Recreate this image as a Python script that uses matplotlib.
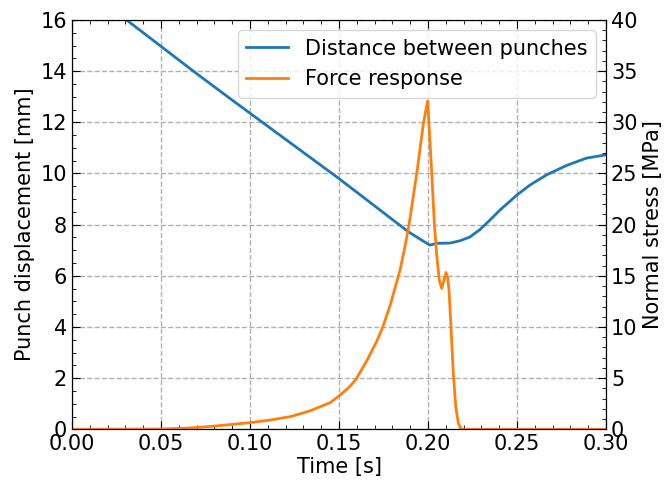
import matplotlib
matplotlib.use("Agg")
import matplotlib.pyplot as plt
from matplotlib.ticker import MultipleLocator

plt.rcParams["font.size"] = 15

# punch distance [mm] vs time [s]
t_dist = [0.0, 0.0307, 0.0682, 0.0888, 0.15, 0.189, 0.2, 0.201, 0.205,
          0.2124, 0.218, 0.2236, 0.2292, 0.2348, 0.2404, 0.2498, 0.2573,
          0.2667, 0.278, 0.289, 0.30]
dist = [17.47, 16.0, 14.0, 12.93, 9.8, 7.72, 7.24, 7.2, 7.27,
        7.28, 7.37, 7.52, 7.81, 8.18, 8.57, 9.15, 9.55,
        9.95, 10.32, 10.6, 10.73]

# normal stress [MPa] vs time [s]
t_force = [0.0, 0.05, 0.0627, 0.072, 0.0813, 0.0906, 0.10, 0.1112, 0.1225,
           0.1337, 0.145, 0.15, 0.1562, 0.1596, 0.1656, 0.1712, 0.1746,
           0.1787, 0.1843, 0.1871, 0.1893, 0.194, 0.1974, 0.1998, 0.2021,
           0.2036, 0.2049, 0.2063, 0.2077, 0.2090, 0.2101, 0.2110, 0.2118,
           0.2129, 0.2142, 0.2156, 0.2170, 0.2182, 0.2193, 0.30]
force = [0.0, 0.03, 0.1, 0.2, 0.33, 0.49, 0.65, 0.9, 1.23,
         1.8, 2.6, 3.25, 4.2, 4.9, 6.7, 8.6, 10.0,
         12.1, 15.56, 17.9, 19.95, 25.4, 29.9, 32.1, 25.0,
         20.0, 17.0, 14.6, 13.77, 14.6, 15.33, 14.8, 13.6,
         10.0, 5.47, 2.2, 0.59, 0.15, 0.0, 0.0]

fig, ax1 = plt.subplots(figsize=(6.64, 4.88), dpi=100)
fig.subplots_adjust(left=0.1084, right=0.9127, top=0.959, bottom=0.1203)
ax2 = ax1.twinx()

l1, = ax1.plot(t_dist, dist, color="#1f77b4", lw=2, label="Distance between punches")
l2, = ax2.plot(t_force, force, color="#ff7f0e", lw=2, label="Force response")

ax1.set_xlim(0, 0.30)
ax1.set_ylim(0, 16)
ax2.set_ylim(0, 40)
ax1.set_xlabel("Time [s]", labelpad=2)
ax1.set_ylabel("Punch displacement [mm]")
ax2.set_ylabel("Normal stress [MPa]")

ax1.xaxis.set_major_locator(MultipleLocator(0.05))
ax1.xaxis.set_minor_locator(MultipleLocator(0.01))
ax1.yaxis.set_major_locator(MultipleLocator(2))
ax1.yaxis.set_minor_locator(MultipleLocator(0.5))
ax2.yaxis.set_major_locator(MultipleLocator(5))
ax2.yaxis.set_minor_locator(MultipleLocator(1))

ax1.tick_params(which="both", direction="in", top=True)
ax1.tick_params(which="major", length=6)
ax1.tick_params(which="minor", length=3)
ax2.tick_params(which="both", direction="in")
ax2.tick_params(which="major", length=6)
ax2.tick_params(which="minor", length=3)

ax1.grid(True, linestyle="--", color="#b0b0b0", lw=1)
ax1.xaxis.set_major_formatter(plt.FormatStrFormatter("%.2f"))

ax2.legend([l1, l2], [l1.get_label(), l2.get_label()], loc="upper right")

fig.savefig("out.png", dpi=100)
